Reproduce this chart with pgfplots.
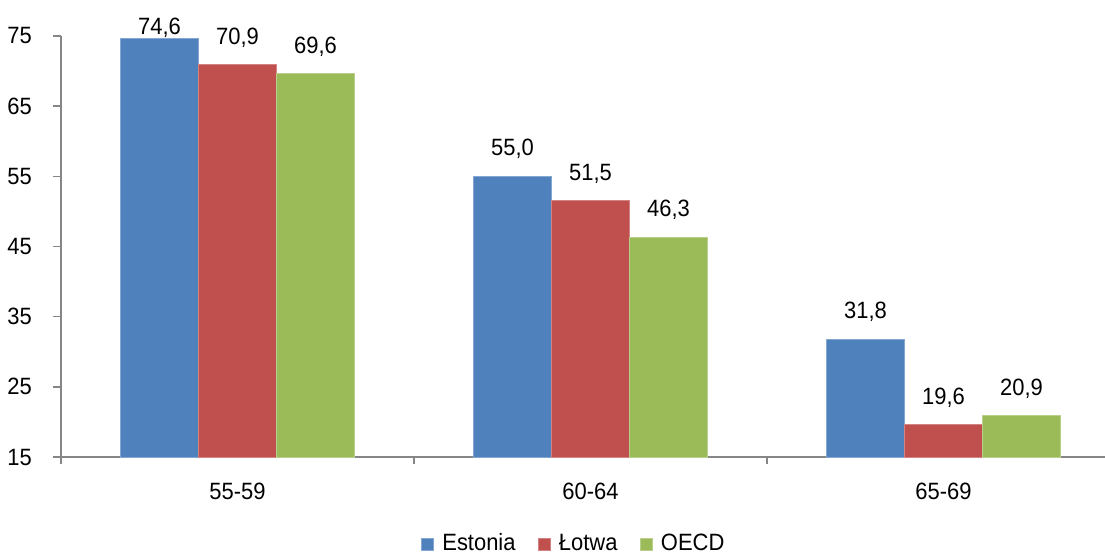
\documentclass[border=0pt]{standalone}
\usepackage{fontspec}
\setmainfont{Liberation Sans}[FakeStretch=0.93]
\usepackage{pgfplots}
\usepackage{pgfplotstable}
\pgfplotsset{compat=1.18}
\definecolor{cEst}{HTML}{4F81BD}
\definecolor{cLat}{HTML}{C0504D}
\definecolor{cOecd}{HTML}{9BBB59}
\definecolor{axgray}{HTML}{868686}

\pgfplotstableread{
x y dy
0 74.6 0.5
1 55.0 8.5
2 31.8 8.5
}\est
\pgfplotstableread{
x y dy
0 70.9 8.5
1 51.5 8.5
2 19.6 8.5
}\lat
\pgfplotstableread{
x y dy
0 69.6 8.5
1 46.3 8.5
2 20.9 8.5
}\oecd

\begin{document}
\fontsize{11.8}{14}\selectfont
\begin{tikzpicture}
\begin{axis}[
  name=ax,
  scale only axis,
  width=522pt, height=210.5pt,
  xmin=-0.5, xmax=2.4575,
  ymin=0, ymax=60,
  y filter/.expression={y-15},
  clip=false,
  axis x line=bottom, axis y line=left,
  axis line style={-, draw=axgray, line width=0.75pt},
  ytick={0,10,20,30,40,50,60},
  yticklabels={15,25,35,45,55,65,75},
  y tick style={draw=axgray, line width=0.75pt},
  major tick length=4pt,
  tick align=outside,
  xtick={0,1,2},
  xticklabels={55-59,60-64,65-69},
  x tick style={draw=none},
  minor xtick={-0.5,0.5,1.5},
  minor x tick style={draw=axgray, line width=0.75pt},
  minor tick length=3.5pt,
  /pgf/number format/assume math mode=true,
  tick label style={font=\fontsize{11.8}{14}\selectfont},
  yticklabel style={anchor=east, xshift=-6.5pt},
  xticklabel style={anchor=north, yshift=-5pt},
  ybar=0pt, bar width=39pt,
  nodes near coords,
  point meta=rawy,
  visualization depends on={\thisrow{dy} \as \dy},
  nodes near coords style={
    /pgf/number format/.cd, fixed, fixed zerofill, precision=1, use comma, assume math mode=true,
    /tikz/.cd, font=\fontsize{11.8}{14}\selectfont, anchor=south, inner sep=0pt, text=black},
  every node near coord/.append style={yshift=\dy},
  legend columns=3,
  legend style={at={(0.492,0)}, anchor=center, yshift=-43.5pt, draw=none, fill=none,
    font=\fontsize{11.8}{14}\selectfont,
    /tikz/every even column/.append style={column sep=9pt}},
  legend image code/.code={\fill[#1] (0pt,-3pt) rectangle (6pt,3pt); \path[draw=none, fill=none] (6pt,0pt) -- (8.5pt,0pt);},
]
\addplot[fill=cEst, draw=cEst!70!white, line width=0.4pt] table[x=x,y=y] {\est};
\addplot[fill=cLat, draw=cLat!70!white, line width=0.4pt] table[x=x,y=y] {\lat};
\addplot[fill=cOecd, draw=cOecd!70!white, line width=0.4pt] table[x=x,y=y] {\oecd};
\legend{Estonia,Łotwa,OECD}
\end{axis}
\pgfresetboundingbox
\path[use as bounding box] ([shift={(-30.5pt,-48.5pt)}]ax.south west) rectangle ([shift={(0pt,18pt)}]ax.north east);
\end{tikzpicture}
\end{document}
